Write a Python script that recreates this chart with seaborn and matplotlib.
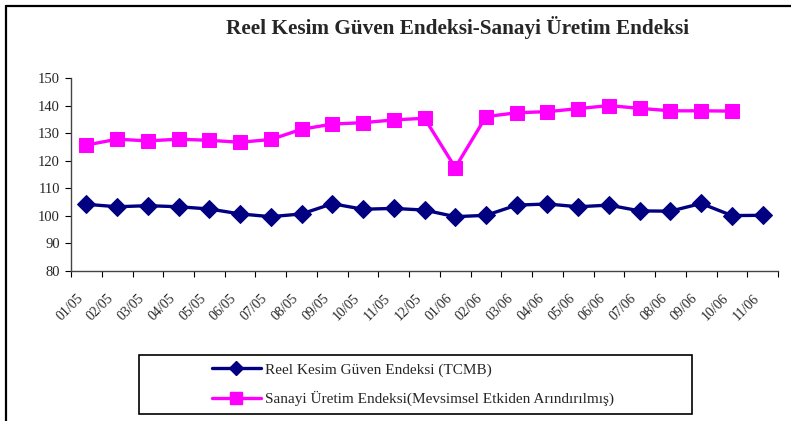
import numpy as np
import pandas as pd
import matplotlib
matplotlib.use("Agg")
import matplotlib.pyplot as plt
from matplotlib.lines import Line2D
from matplotlib.patches import Rectangle
from matplotlib.ticker import FixedLocator
from matplotlib.transforms import ScaledTranslation
import seaborn as sns

months = ["01/05", "02/05", "03/05", "04/05", "05/05", "06/05", "07/05", "08/05",
          "09/05", "10/05", "11/05", "12/05", "01/06", "02/06", "03/06", "04/06",
          "05/06", "06/06", "07/06", "08/06", "09/06", "10/06", "11/06"]
reel_kesim = [104.2, 103.3, 103.7, 103.3, 102.5, 100.7, 99.7, 100.7, 104.4, 102.4,
              102.7, 102.1, 99.7, 100.2, 103.9, 104.3, 103.3, 103.9, 101.8, 101.7,
              104.5, 100.1, 100.2]
sanayi = [125.7, 127.8, 127.2, 127.8, 127.4, 126.7, 127.7, 131.4, 133.3, 133.8,
          134.8, 135.4, 117.5, 136.0, 137.4, 137.8, 138.9, 140.0, 139.0, 138.1,
          138.1, 138.0, np.nan]
series_names = ["Reel Kesim Güven Endeksi (TCMB)",
                "Sanayi Üretim Endeksi(Mevsimsel Etkiden Arındırılmış)"]
title = "Reel Kesim Güven Endeksi-Sanayi Üretim Endeksi"
yticks = [80, 90, 100, 110, 120, 130, 140, 150]

sns.set_style("white")
plt.rcParams["font.family"] = ["Liberation Serif", "DejaVu Serif"]

navy = "#000080"
magenta = "#FF00FF"

fig = plt.figure(figsize=(7.91, 4.21), dpi=100)
ax = fig.add_axes([0.0898, 0.3563, 0.8938, 0.4584])

pos = np.arange(len(months))
df1 = pd.DataFrame({"x": pos, "y": reel_kesim})
df2 = pd.DataFrame({"x": pos, "y": sanayi}).dropna()

sns.lineplot(data=df1, x="x", y="y", ax=ax, color=navy, lw=2.4, marker="D",
             markersize=9, markeredgecolor=navy, zorder=3)
sns.lineplot(data=df2, x="x", y="y", ax=ax, color=magenta, lw=2.4, marker="s",
             markersize=10, markeredgecolor=magenta, zorder=3)

ax.set_xlim(-0.5, len(months) - 0.5)
ax.set_ylim(80, 150)
ax.set_yticks(yticks)
ax.set_yticklabels([str(v) for v in yticks], fontsize=10.5)
ax.set_xlabel("")
ax.set_ylabel("")

ax.tick_params(axis="x", which="minor", length=0, pad=15)
ax.tick_params(axis="x", which="major", length=4, width=0.8, direction="out",
               bottom=True, color="black")
ax.tick_params(axis="y", length=4, width=0.8, direction="out", left=True,
               color="black", pad=4)

ax.xaxis.set_major_locator(FixedLocator(np.arange(-0.5, len(months), 1.0)))
ax.set_xticklabels([])
ax.set_xticks(pos, minor=True)
ax.set_xticklabels(months, minor=True, rotation=45, ha="right",
                   rotation_mode="anchor", fontsize=10)
shift = ScaledTranslation(-10 / 100, 0, fig.dpi_scale_trans)
for lab in ax.get_xticklabels(minor=True):
    lab.set_transform(lab.get_transform() + shift)

for s in ["top", "right"]:
    ax.spines[s].set_visible(False)
for s in ["left", "bottom"]:
    ax.spines[s].set_color("#444444")
    ax.spines[s].set_linewidth(1.0)
ax.grid(False)

fig.text(0.579, 0.935, title, ha="center", va="center", fontsize=15.3,
         fontweight="bold")

# figure border (top and left)
fig.add_artist(Line2D([6 / 791, 1.0], [1 - 6 / 421, 1 - 6 / 421],
                      transform=fig.transFigure, color="black", lw=1.6))
fig.add_artist(Line2D([6 / 791, 6 / 791], [0.0, 1 - 6 / 421],
                      transform=fig.transFigure, color="black", lw=1.6))

# legend box
fig.add_artist(Rectangle((139 / 791, 1 - 414 / 421), (692 - 139) / 791,
                         (414 - 355) / 421, transform=fig.transFigure,
                         fill=False, edgecolor="black", lw=1.2))
handles = [
    Line2D([], [], color=navy, lw=2.4, marker="D", markersize=7,
           markeredgecolor=navy),
    Line2D([], [], color=magenta, lw=2.4, marker="s", markersize=8,
           markeredgecolor=magenta),
]
fig.legend(handles, series_names, loc="center left",
           bbox_to_anchor=(204 / 791, 1 - 384.5 / 421), frameon=False,
           fontsize=11.0, handlelength=3.2, handletextpad=0.3,
           labelspacing=0.95, borderpad=0)

fig.savefig("out.png", dpi=100)
